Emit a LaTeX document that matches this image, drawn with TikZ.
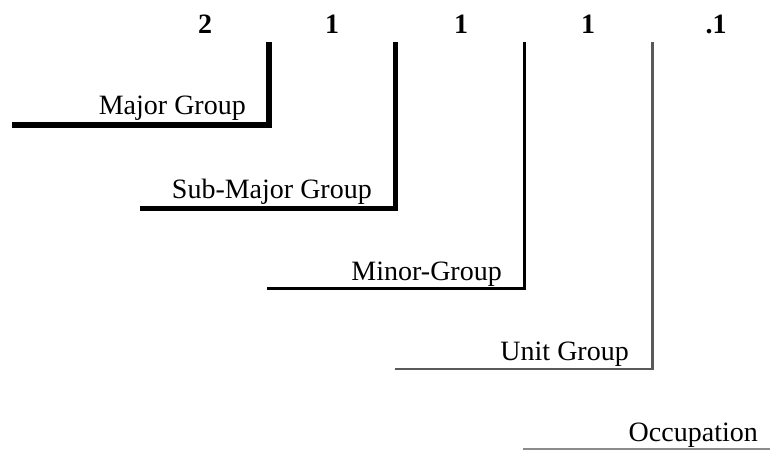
\documentclass[tikz,border=0pt]{standalone}
\usepackage{fontspec}
\setmainfont{Liberation Serif}
\begin{document}
\begin{tikzpicture}[x=1pt,y=-1pt,
  lbl/.style={inner sep=0pt,anchor=base east,font=\fontsize{28}{30}\selectfont},
  dig/.style={inner sep=0pt,anchor=base,font=\fontsize{28}{30}\selectfont\bfseries},
  bracket/.style={line join=miter,line cap=butt}]
\useasboundingbox (0,0) rectangle (770,450);
% digits
\node[dig] (d1) at (205,33) {2};
\node[dig] (d2) at (332,33) {1};
\node[dig] (d3) at (461,33) {1};
\node[dig] (d4) at (588,33) {1};
\node[dig] (d5) at (716,33) {.1};
% labels
\node[lbl] (major) at (246,114) {Major Group};
\node[lbl] (submajor) at (372,198) {Sub-Major Group};
\node[lbl] (minor) at (502,280) {Minor-Group};
\node[lbl] (unit) at (629,360) {Unit Group};
\node[lbl] (occ) at (758,441) {Occupation};
% bracket corners
\coordinate (t1) at (268.5,42);
\coordinate (c1) at (268.5,125);
\coordinate (s1) at (12,125);
\coordinate (t2) at (395.5,42);
\coordinate (c2) at (395.5,208.5);
\coordinate (s2) at (140,208.5);
\coordinate (t3) at (524.5,42);
\coordinate (c3) at (524.5,288);
\coordinate (s3) at (267,288);
\coordinate (t4) at (652.5,42);
\coordinate (c4) at (652.5,369);
\coordinate (s4) at (395,369);
\coordinate (s5) at (523,448.5);
\coordinate (e5) at (770,448.5);
\draw[bracket,line width=6pt] (t1) -- (c1) -- (s1);
\draw[bracket,line width=4.5pt] (t2) -- (c2) -- (s2);
\draw[bracket,line width=3pt] (t3) -- (c3) -- (s3);
\draw[bracket,line width=2.5pt,black!65] (t4) -- (c4) -- (s4);
\draw[bracket,line width=2pt,black!45] (s5) -- (e5);
\end{tikzpicture}
\end{document}
